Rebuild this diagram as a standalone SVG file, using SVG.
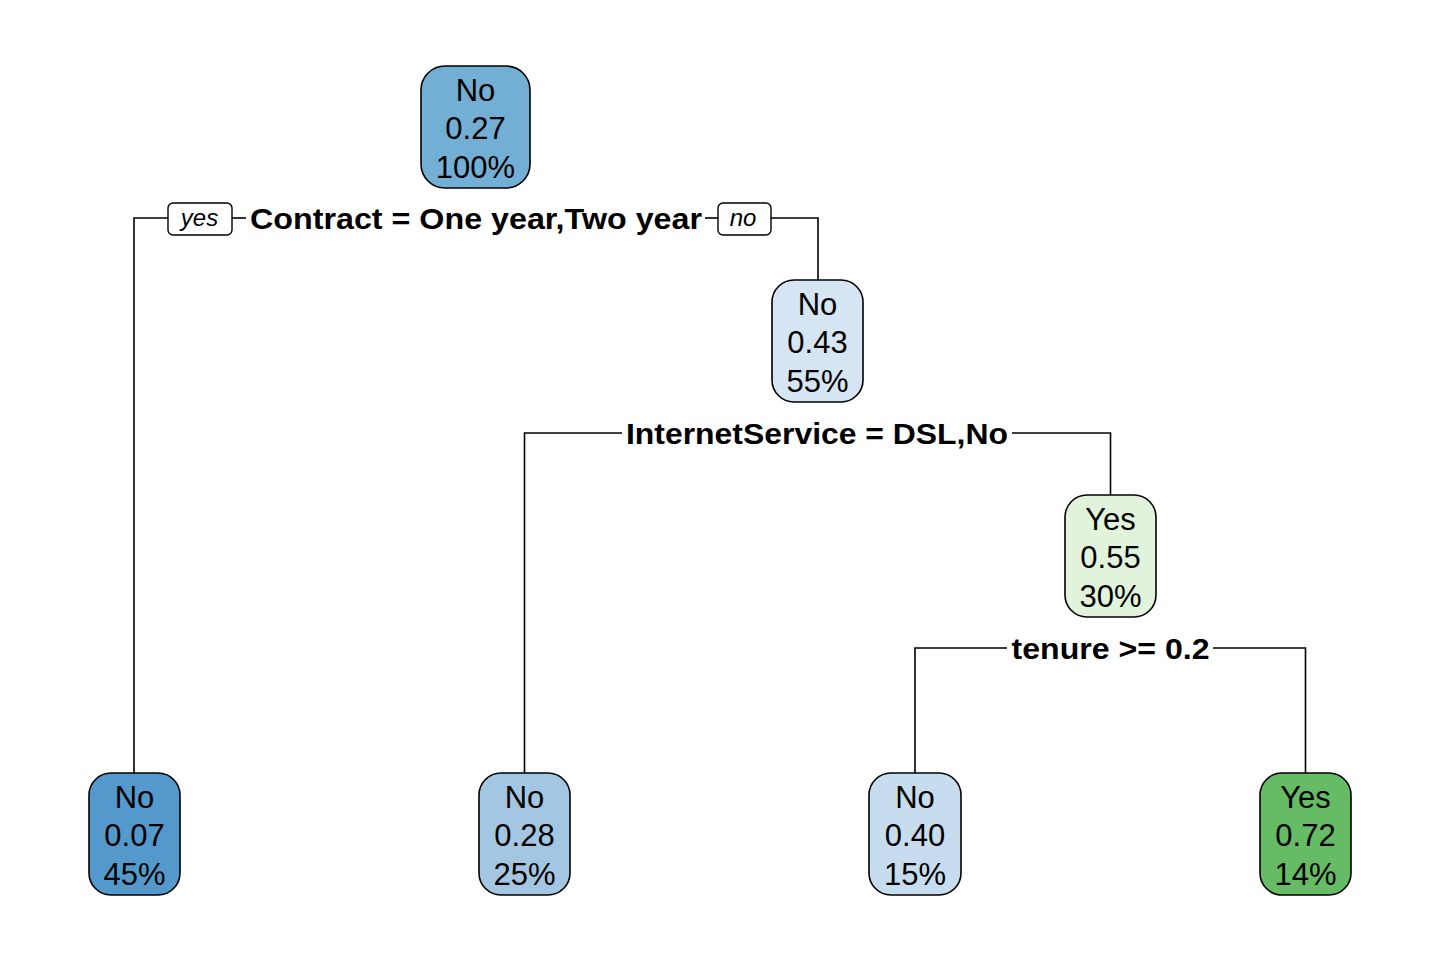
<svg xmlns="http://www.w3.org/2000/svg" width="1440" height="960" viewBox="0 0 1440 960">
<style>
.box{stroke:#000;stroke-width:1.6}
.nt{font-family:"Liberation Sans",Arial,sans-serif;font-size:31px;fill:#000;text-anchor:middle}
.st{font-family:"Liberation Sans",Arial,sans-serif;font-size:30px;font-weight:bold;fill:#000;text-anchor:middle}
.yn{font-family:"Liberation Sans",Arial,sans-serif;font-size:24px;font-style:italic;fill:#000;text-anchor:middle}
.lab{fill:#fff;stroke:#000;stroke-width:1.4}
.edge{fill:none;stroke:#000;stroke-width:1.6}
</style>
<rect width="1440" height="960" fill="#fff"/>
<g id="connectors">
<path class="edge" d="M134,773 V218 H168"/>
<path class="edge" d="M232,218 H246"/>
<path class="edge" d="M705,218 H718"/>
<path class="edge" d="M771,218 H818 V280"/>
<path class="edge" d="M524.5,773 V433 H622"/>
<path class="edge" d="M1012,433 H1110.5 V495"/>
<path class="edge" d="M915,773 V648 H1007"/>
<path class="edge" d="M1213,648 H1305.5 V773"/>
</g>
<g id="split1">
<text class="st" x="476" y="229" textLength="452" lengthAdjust="spacingAndGlyphs">Contract = One year,Two year</text>
<rect class="lab" x="168" y="203" width="64" height="32" rx="5"/>
<text class="yn" x="199.5" y="226">yes</text>
<rect class="lab" x="718" y="203" width="53" height="32" rx="5"/>
<text class="yn" x="743" y="226">no</text>
</g>
<g id="split2">
<text class="st" x="817" y="444" textLength="382" lengthAdjust="spacingAndGlyphs">InternetService = DSL,No</text>
</g>
<g id="split3">
<text class="st" x="1110.5" y="659" textLength="198" lengthAdjust="spacingAndGlyphs">tenure &gt;= 0.2</text>
</g>
<g id="node1">
<rect class="box" x="421" y="66" width="109" height="122" rx="24" fill="#73AED5"/>
<text class="nt" x="475.5" y="100.5">No</text>
<text class="nt" x="475.5" y="139">0.27</text>
<text class="nt" x="475.5" y="177.5">100%</text>
</g>
<g id="node2">
<rect class="box" x="772" y="280" width="91" height="122" rx="22" fill="#D5E5F4"/>
<text class="nt" x="817.5" y="314.5">No</text>
<text class="nt" x="817.5" y="353">0.43</text>
<text class="nt" x="817.5" y="391.5">55%</text>
</g>
<g id="node3">
<rect class="box" x="1065" y="495" width="91" height="122" rx="22" fill="#E1F3DB"/>
<text class="nt" x="1110.5" y="529.5">Yes</text>
<text class="nt" x="1110.5" y="568">0.55</text>
<text class="nt" x="1110.5" y="606.5">30%</text>
</g>
<g id="leaf1">
<rect class="box" x="89" y="773" width="91" height="122" rx="22" fill="#5499CB"/>
<text class="nt" x="134.5" y="807.5">No</text>
<text class="nt" x="134.5" y="846">0.07</text>
<text class="nt" x="134.5" y="884.5">45%</text>
</g>
<g id="leaf2">
<rect class="box" x="479" y="773" width="91" height="122" rx="22" fill="#A3C7E3"/>
<text class="nt" x="524.5" y="807.5">No</text>
<text class="nt" x="524.5" y="846">0.28</text>
<text class="nt" x="524.5" y="884.5">25%</text>
</g>
<g id="leaf3">
<rect class="box" x="869" y="773" width="92" height="122" rx="22" fill="#C8DCF0"/>
<text class="nt" x="915" y="807.5">No</text>
<text class="nt" x="915" y="846">0.40</text>
<text class="nt" x="915" y="884.5">15%</text>
</g>
<g id="leaf4">
<rect class="box" x="1260" y="773" width="91" height="122" rx="22" fill="#66BB65"/>
<text class="nt" x="1305.5" y="807.5">Yes</text>
<text class="nt" x="1305.5" y="846">0.72</text>
<text class="nt" x="1305.5" y="884.5">14%</text>
</g>
</svg>
